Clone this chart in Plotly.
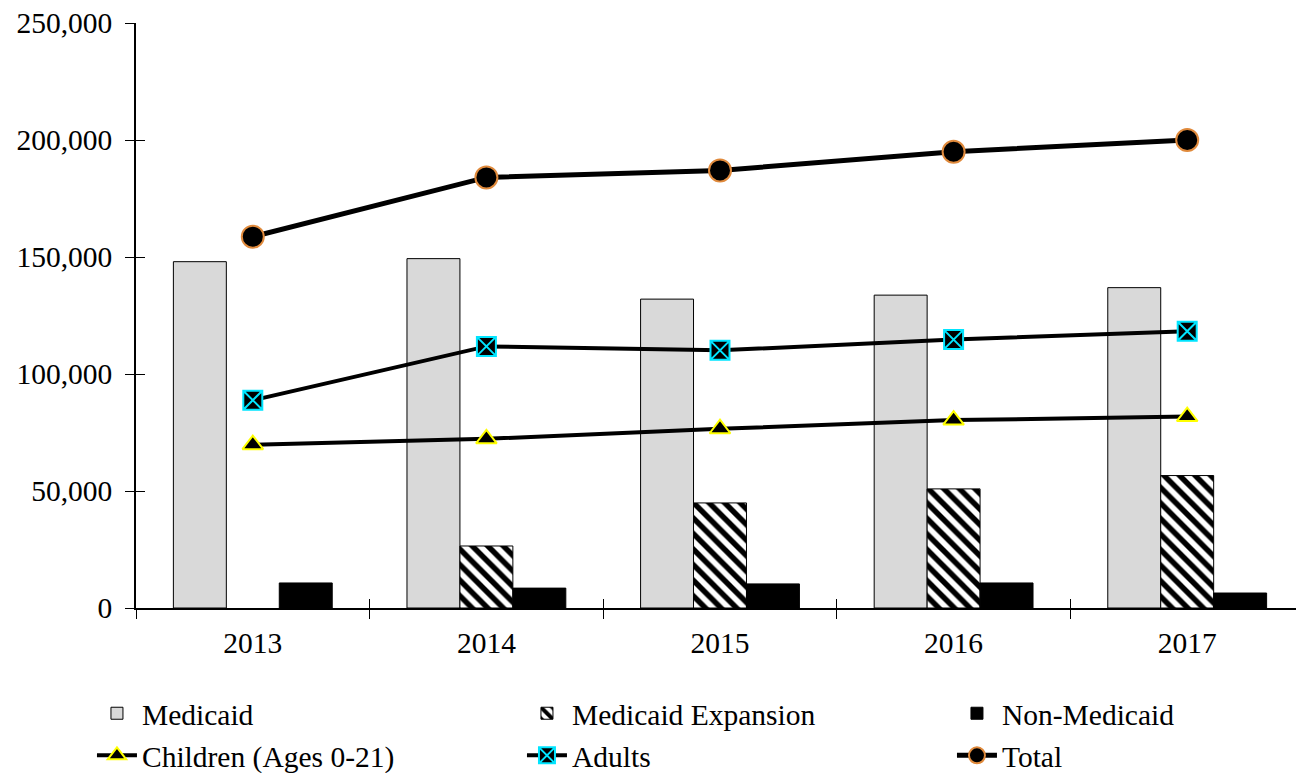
import plotly.graph_objects as go

years = ["2013", "2014", "2015", "2016", "2017"]
medicaid = [148000, 149300, 132000, 133700, 136900]
expansion = [None, 26500, 44900, 50900, 56600]
non_medicaid = [10700, 8500, 10300, 10700, 6400]
children = [69800, 72300, 76600, 80300, 81800]
adults = [88800, 111800, 110100, 114700, 118300]
total = [158700, 184000, 187000, 195000, 200000]

y_ticks = [0, 50000, 100000, 150000, 200000, 250000]
y_range = [0, 250000]
font_family = "Liberation Serif, Times New Roman, serif"

fig = go.Figure()
fig.add_trace(go.Bar(x=years, y=medicaid, name="Medicaid", legend="legend",
                     marker=dict(color="#d9d9d9", line=dict(color="#000000", width=1))))
fig.add_trace(go.Bar(x=years, y=expansion, name="Medicaid Expansion", legend="legend",
                     marker=dict(color="#ffffff", line=dict(color="#000000", width=1),
                                 pattern=dict(shape="\\", fgcolor="#000000", bgcolor="#ffffff",
                                              size=11, solidity=0.5, fillmode="replace"))))
fig.add_trace(go.Bar(x=years, y=non_medicaid, name="Non-Medicaid", legend="legend",
                     marker=dict(color="#000000", line=dict(color="#000000", width=1))))
fig.add_trace(go.Scatter(x=years, y=children, name="Children (Ages 0-21)", mode="lines+markers",
                         xaxis="x2", yaxis="y2", legend="legend2",
                         line=dict(color="#000000", width=4),
                         marker=dict(symbol="triangle-up", size=18, color="#000000",
                                     line=dict(color="#ffff00", width=2))))
fig.add_trace(go.Scatter(x=years, y=adults, name="Adults", mode="lines+markers",
                         xaxis="x2", yaxis="y2", legend="legend2",
                         line=dict(color="#000000", width=4),
                         marker=dict(symbol="square-x", size=19, color="#000000",
                                     line=dict(color="#00e5ff", width=2))))
fig.add_trace(go.Scatter(x=years, y=total, name="Total", mode="lines+markers",
                         xaxis="x2", yaxis="y2", legend="legend2",
                         line=dict(color="#000000", width=5),
                         marker=dict(symbol="circle", size=22, color="#000000",
                                     line=dict(color="#e08a3c", width=2))))

legend_common = dict(orientation="h", xanchor="left", yanchor="top",
                     entrywidth=375, entrywidthmode="pixels", font=dict(size=29.5),
                     traceorder="normal", itemwidth=40, bgcolor="rgba(0,0,0,0)")

fig.update_layout(
    width=1296, height=765,
    margin=dict(l=128, r=0, t=15, b=165, autoexpand=False),
    paper_bgcolor="#ffffff", plot_bgcolor="#ffffff",
    font=dict(family=font_family, size=29.5, color="#000000"),
    barmode="group", bargap=0.32, bargroupgap=0,
    showlegend=True,
    legend=dict(x=-0.0377, y=-0.136, **legend_common),
    legend2=dict(x=-0.0377, y=-0.208, **legend_common),
    xaxis=dict(type="category", tickson="boundaries", ticks="outside", ticklen=9,
               tickcolor="#000000", showline=True, linecolor="#000000", linewidth=1.5,
               showgrid=False, zeroline=False, ticklabelstandoff=8,
               ticklabeloverflow="allow", range=[-0.5, 4.5]),
    yaxis=dict(range=y_range, tickvals=y_ticks, tickformat=",d", ticks="outside", ticklen=9,
               tickcolor="#000000", showline=True, linecolor="#000000", linewidth=1.5,
               showgrid=False, zeroline=False, ticklabelstandoff=7,
               ticklabeloverflow="allow"),
    xaxis2=dict(type="category", overlaying="x", anchor="y2", range=[-0.5, 4.5],
                tickson="boundaries", ticks="inside", ticklen=9, tickcolor="#000000",
                showticklabels=False, showgrid=False, zeroline=False, showline=False,
                side="bottom"),
    yaxis2=dict(overlaying="y", anchor="x2", side="left", range=y_range, tickvals=y_ticks,
                ticks="inside", ticklen=9, tickcolor="#000000", showticklabels=False,
                showgrid=False, zeroline=False, showline=False),
)

fig.write_html("out.html")
